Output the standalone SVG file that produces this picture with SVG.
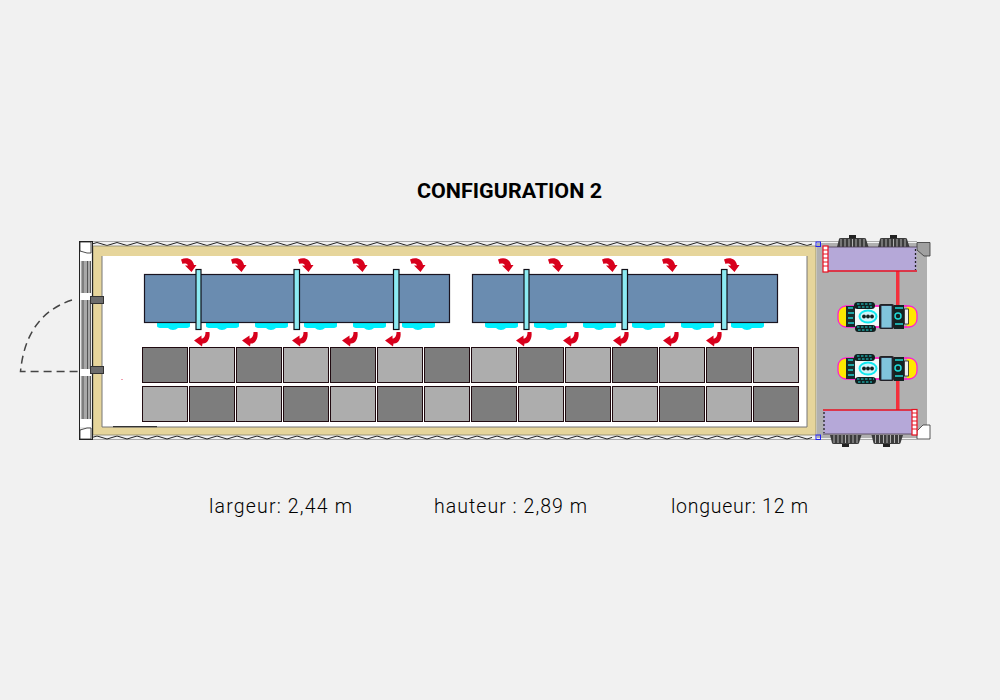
<svg xmlns="http://www.w3.org/2000/svg" width="1000" height="700" viewBox="0 0 1000 700">
<style>
.title{font-family:Roboto,"Liberation Sans",sans-serif;font-weight:700;font-size:20.5px;fill:#000}
.dim{font-family:Roboto,"Liberation Sans",sans-serif;font-weight:300;font-size:19.5px;fill:#000}
.dark{fill:#7d7d7d;stroke:#200a10;stroke-width:1}
.light{fill:#adadad;stroke:#200a10;stroke-width:1}
.panel{fill:#6a8cb0;stroke:#1a1420;stroke-width:1.2}
.bar{fill:#8ceaf2;stroke:#101018;stroke-width:1.2}
.air{fill:#00f0ff}
.arrow{fill:#d8001c}
.red{fill:#f4303c}
.purple{fill:#b5a8d8}
.hinge{fill:#6c6c6c;stroke:#333;stroke-width:1}
</style>
<defs>
<path id="wavy" d="M0,0 q5,-3 10,0 t10,0 t10,0 t10,0 t10,0 t10,0 t10,0 t10,0 t10,0 t10,0 t10,0 t10,0 t10,0 t10,0 t10,0 t10,0 t10,0 t10,0 t10,0 t10,0 t10,0 t10,0 t10,0 t10,0 t10,0 t10,0 t10,0 t10,0 t10,0 t10,0 t10,0 t10,0 t10,0 t10,0 t10,0 t10,0 t10,0 t10,0 t10,0 t10,0 t10,0 t10,0 t10,0 t10,0 t10,0 t10,0 t10,0 t10,0 t10,0 t10,0 t10,0 t10,0 t10,0 t10,0 t10,0 t10,0 t10,0 t10,0 t10,0 t10,0 t10,0 t10,0 t10,0 t10,0 t10,0 t10,0 t10,0 t10,0 t10,0 t10,0 t10,0 t10,0" fill="none" stroke="#222" stroke-width="1"/>
<path id="at" class="arrow" d="M0,1.500 C6,-1.500 12,1 13,7 L15.500,7 L10.500,14 L4,7.500 L7,7.500 C6,5.500 4,5 1.500,6 Z"/>
<path id="ab" class="arrow" d="M11.500,0 L15.500,0 C16.500,7 13,12 8.500,11.500 L8,14.500 L0,8.500 L7.500,3.500 L7.500,6.500 C10,6.500 11.500,4 11.500,0 Z"/>
<path id="air" class="air" d="M0,0 H33 V3 Q33,5 28,5 H21 Q19,7 16,7 Q13,7 11,5 H5 Q0,5 0,3 Z"/>
<g id="tread">
<path d="M1,9 L3,1 Q3,0 5,0 H28 Q30,0 30,1 L32.500,9 Z" fill="#3c3c3c"/>
<path d="M5,1 V9 M9,1 V9 M13,1 V9 M16.500,1 V9 M20,1 V9 M24,1 V9 M28,1 V9" stroke="#b0b0b0" stroke-width="1"/>
</g>
<g id="tread-b">
<path d="M1,0 L3,8 Q3,9 5,9 H28 Q30,9 30,8 L32.500,0 Z" fill="#3c3c3c"/>
<path d="M5,0 V8 M9,0 V8 M13,0 V8 M16.500,0 V8 M20,0 V8 M24,0 V8 M28,0 V8" stroke="#b0b0b0" stroke-width="1"/>
</g>
<g id="robot">
<rect x="838" y="306" width="79" height="21" rx="8" fill="#ffe800" stroke="#ff20d0" stroke-width="1.300"/>
<rect x="851" y="307" width="56" height="19" fill="#b0b0b0"/>
<path d="M850,306 H907 M850,327 H907" stroke="#ff20d0" stroke-width="1"/>
<rect x="846" y="306" width="9" height="21" fill="#1a2a2a"/>
<path d="M848,308 h5 M848,313 h6 M848,318 h5 M848,323 h6" stroke="#20d0d0" stroke-width="1.500"/>
<rect x="855" y="307" width="25" height="19" fill="#f4f8f8"/>
<rect x="854" y="302" width="21" height="7" rx="3.500" fill="#102020"/>
<rect x="855" y="325" width="21" height="7" rx="3.500" fill="#102020"/>
<path d="M857,304 h16 M858,307 h14 M857,327 h17 M858,330 h14" stroke="#20d8d8" stroke-width="1.200" stroke-dasharray="2.500 1.500"/>
<ellipse cx="868" cy="316.500" rx="8.500" ry="6" fill="#d0f4f8" stroke="#10e8f0" stroke-width="2"/>
<circle cx="864" cy="316.500" r="1.900" fill="#102020"/><circle cx="868" cy="316.500" r="1.900" fill="#102020"/><circle cx="872" cy="316.500" r="1.900" fill="#102020"/>
<rect x="879" y="304" width="15" height="25" rx="2" fill="#222"/>
<rect x="881" y="305.500" width="11" height="22.500" fill="#80c4dc" stroke="#223" stroke-width=".8"/>
<rect x="894" y="305" width="10" height="24" fill="#142222"/>
<circle cx="898" cy="316" r="3" fill="none" stroke="#20d8d8" stroke-width="1.500"/>
<path d="M895,308 h8 M895,324 h8" stroke="#20d8d8" stroke-width="1.500"/>
<rect x="904.500" y="309" width="4" height="15" fill="#f0f0f0" stroke="#222" stroke-width=".8"/>
</g>
</defs>

<rect width="1000" height="700" fill="#f1f1f1"/>

<text class="title" x="417" y="197.500" textLength="185" lengthAdjust="spacingAndGlyphs">CONFIGURATION 2</text>

<g id="container">
<path d="M92,241.500 H917 M92,439.500 H917" stroke="#aaa" stroke-width="1"/>
<use href="#wavy" x="92" y="244"/>
<use href="#wavy" x="92" y="437.500"/>
<rect x="93" y="246" width="723" height="189" fill="#e6d59b" stroke="#8a8468" stroke-width=".8"/>
<rect x="102" y="256" width="705" height="171" fill="#fff"/>
<path d="M807,256 V427 H102 V256" fill="none" stroke="#777" stroke-width="1"/>
<rect x="113" y="426" width="44" height="1.200" fill="#333"/>
<rect x="121" y="379" width="2" height="1" fill="#f0a0b0"/>
</g>

<g id="door">
<rect x="79.500" y="241.500" width="13" height="198" fill="#e8e8e8" stroke="#222" stroke-width="1"/>
<rect x="81" y="256" width="10" height="171" fill="#a8a8a8"/>
<path d="M83,256 V427 M87.500,256 V427 M90.500,256 V427" stroke="#555" stroke-width="1"/>
<rect x="80" y="293" width="11" height="7" fill="#fff"/>
<rect x="80" y="369" width="11" height="7" fill="#fff"/>
<rect x="80" y="252" width="11" height="9" fill="#fff"/>
<rect x="80" y="419" width="11" height="8" fill="#fff"/>
<path d="M80,242 H91 V253 H87 L80,251 Z" fill="#fff" stroke="#222" stroke-width=".8"/>
<path d="M80,439 H91 V428 H87 L80,430 Z" fill="#fff" stroke="#222" stroke-width=".8"/>
<rect x="90.500" y="296.500" width="13" height="7" class="hinge"/>
<rect x="90.500" y="366.500" width="13" height="7" class="hinge"/>
<path d="M72,300 Q26,315 20.500,371.500 H78" fill="none" stroke="#444" stroke-width="1.500" stroke-dasharray="8 5"/>
</g>

<g id="cargo">
<rect class="dark" x="142.500" y="347.500" width="45" height="35"/><rect class="light" x="189.500" y="347.500" width="45" height="35"/><rect class="dark" x="236.500" y="347.500" width="45" height="35"/><rect class="light" x="283.500" y="347.500" width="45" height="35"/><rect class="dark" x="330.500" y="347.500" width="45" height="35"/><rect class="light" x="377.500" y="347.500" width="45" height="35"/><rect class="dark" x="424.500" y="347.500" width="45" height="35"/><rect class="light" x="471.500" y="347.500" width="45" height="35"/><rect class="dark" x="518.500" y="347.500" width="45" height="35"/><rect class="light" x="565.500" y="347.500" width="45" height="35"/><rect class="dark" x="612.500" y="347.500" width="45" height="35"/><rect class="light" x="659.500" y="347.500" width="45" height="35"/><rect class="dark" x="706.500" y="347.500" width="45" height="35"/><rect class="light" x="753.500" y="347.500" width="45" height="35"/>
<rect class="light" x="142.500" y="386.500" width="45" height="35"/><rect class="dark" x="189.500" y="386.500" width="45" height="35"/><rect class="light" x="236.500" y="386.500" width="45" height="35"/><rect class="dark" x="283.500" y="386.500" width="45" height="35"/><rect class="light" x="330.500" y="386.500" width="45" height="35"/><rect class="dark" x="377.500" y="386.500" width="45" height="35"/><rect class="light" x="424.500" y="386.500" width="45" height="35"/><rect class="dark" x="471.500" y="386.500" width="45" height="35"/><rect class="light" x="518.500" y="386.500" width="45" height="35"/><rect class="dark" x="565.500" y="386.500" width="45" height="35"/><rect class="light" x="612.500" y="386.500" width="45" height="35"/><rect class="dark" x="659.500" y="386.500" width="45" height="35"/><rect class="light" x="706.500" y="386.500" width="45" height="35"/><rect class="dark" x="753.500" y="386.500" width="45" height="35"/>
</g>

<g id="rack-left">
<use href="#air" x="157" y="323"/><use href="#air" x="206" y="323"/><use href="#air" x="255" y="323"/><use href="#air" x="304" y="323"/><use href="#air" x="353" y="323"/><use href="#air" x="402" y="323"/>
<rect class="panel" x="144.500" y="274.500" width="305" height="48"/>
<rect class="bar" x="196" y="269.500" width="5" height="60"/><rect class="bar" x="294" y="269.500" width="5.500" height="60"/><rect class="bar" x="393.500" y="269.500" width="5.500" height="60"/>
</g>
<g id="rack-right">
<use href="#air" x="485" y="323"/><use href="#air" x="534" y="323"/><use href="#air" x="583" y="323"/><use href="#air" x="632" y="323"/><use href="#air" x="681" y="323"/><use href="#air" x="731" y="323"/>
<rect class="panel" x="472.500" y="274.500" width="305" height="48"/>
<rect class="bar" x="524" y="269.500" width="5" height="60"/><rect class="bar" x="622" y="269.500" width="5.500" height="60"/><rect class="bar" x="721.500" y="269.500" width="5.500" height="60"/>
</g>

<g id="connectors">
<use href="#at" x="181" y="258"/><use href="#at" x="231" y="258"/><use href="#at" x="298" y="258"/><use href="#at" x="352" y="258"/><use href="#at" x="410" y="258"/>
<use href="#at" x="498" y="258"/><use href="#at" x="548" y="258"/><use href="#at" x="602" y="258"/><use href="#at" x="662" y="258"/><use href="#at" x="724" y="258"/>
<use href="#ab" x="194" y="332"/><use href="#ab" x="242" y="332"/><use href="#ab" x="292" y="332"/><use href="#ab" x="342" y="332"/><use href="#ab" x="385" y="332"/>
<use href="#ab" x="516" y="332"/><use href="#ab" x="563" y="332"/><use href="#ab" x="613" y="332"/><use href="#ab" x="663" y="332"/><use href="#ab" x="706" y="332"/>
</g>

<g id="machine-room">
<rect x="817" y="243" width="113" height="195" fill="#b0b0b0"/>
<rect x="927" y="255" width="3" height="172" fill="#f4f4f4"/>
<rect x="816" y="242" width="4.500" height="4.500" fill="none" stroke="#2020f0" stroke-width="1"/>
<rect x="816" y="435" width="4.500" height="4.500" fill="none" stroke="#2020f0" stroke-width="1"/>
<path d="M917,242.500 H930 V256 H924 L917,250 Z" fill="#a0a0a0" stroke="#333" stroke-width=".8"/>
<path d="M917,431 L923,425 H930 V439 H917 Z" fill="#fff" stroke="#333" stroke-width=".8"/>
<rect x="896" y="271" width="3.500" height="36" class="red"/>
<rect x="896" y="378" width="3.500" height="32" class="red"/>
<use href="#robot"/>
<use href="#robot" y="52"/>
</g>

<g id="unit-top">
<use href="#tread" x="836" y="238"/><use href="#tread" x="877" y="238"/>
<rect x="849" y="235" width="7" height="3.500" fill="#222"/><rect x="890" y="235" width="7" height="3.500" fill="#222"/>
<rect x="823.500" y="247" width="93" height="24" class="purple"/>
<path d="M823,271 H917" stroke="#e81020" stroke-width="1.300"/>
<path d="M823,247 H917" stroke="#4a3a50" stroke-width=".8"/>
<rect x="823" y="246" width="5" height="26" fill="#fff" stroke="#e81020" stroke-width="1.200"/>
<path d="M823,250 h5 M823,254 h5 M823,258 h5 M823,262 h5 M823,266 h5" stroke="#e81020" stroke-width="1"/>
<path d="M915.500,249 V270" stroke="#222" stroke-width="1.300" stroke-dasharray="2 2"/>
</g>
<g id="unit-bottom">
<use href="#tread-b" x="829" y="435"/><use href="#tread-b" x="870.500" y="435"/>
<rect x="842" y="444" width="7" height="3" fill="#222"/><rect x="883" y="444" width="7" height="3" fill="#222"/>
<rect x="823.500" y="410" width="93" height="24" class="purple"/>
<path d="M823,410 H917" stroke="#e81020" stroke-width="1.300"/>
<path d="M823,434 H917" stroke="#4a3a50" stroke-width=".8"/>
<rect x="912" y="409.500" width="5" height="25.500" fill="#fff" stroke="#e81020" stroke-width="1.200"/>
<path d="M912,413 h5 M912,417 h5 M912,421 h5 M912,425 h5 M912,429 h5" stroke="#e81020" stroke-width="1"/>
<path d="M824,412 V433" stroke="#222" stroke-width="1.300" stroke-dasharray="2 2"/>
</g>

<text class="dim" x="209" y="513" textLength="143">largeur: 2,44 m</text>
<text class="dim" x="434" y="513" textLength="153">hauteur : 2,89 m</text>
<text class="dim" x="671" y="513" textLength="137">longueur: 12 m</text>
</svg>
